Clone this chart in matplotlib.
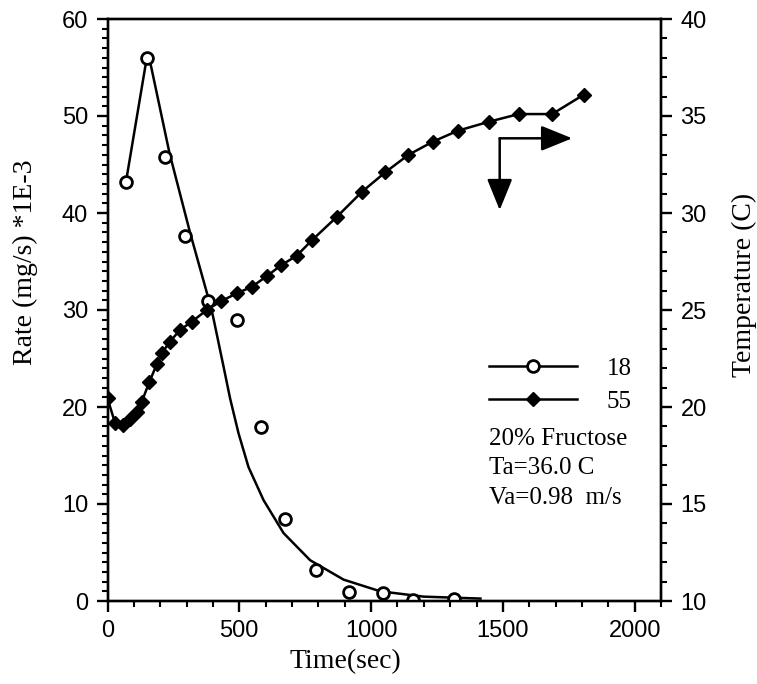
import matplotlib
matplotlib.use("Agg")
import matplotlib.pyplot as plt
from matplotlib.lines import Line2D
from matplotlib.ticker import MultipleLocator

# Drying rate (open circles, left axis)
rate_time = [70, 149, 218, 294, 383, 491, 582, 674, 792, 918, 1047, 1159, 1313]
rate_vals = [43.2, 56.0, 45.8, 37.6, 30.9, 29.0, 17.9, 8.5, 3.2, 0.9, 0.8, 0.1, 0.2]

# Fitted rate curve
fit_time = [70, 149, 160, 235, 313, 385, 400, 420, 440, 465, 497, 535, 592,
            668, 769, 896, 1035, 1199, 1415]
fit_vals = [43.2, 56.0, 55.8, 46.2, 38.0, 31.0, 29.4, 26.8, 24.2, 20.9, 17.3,
            13.8, 10.4, 7.0, 4.2, 2.2, 1.0, 0.45, 0.25]

# Product temperature (filled diamonds, right axis)
temp_time = [0, 28, 60, 85, 111, 130, 159, 187, 206, 237, 275, 320, 377, 430,
             491, 548, 605, 658, 718, 776, 870, 966, 1054, 1142, 1235, 1329,
             1446, 1560, 1687, 1807]
temp_vals = [20.45, 19.2, 19.07, 19.4, 19.76, 20.27, 21.3, 22.2, 22.77, 23.37,
             23.97, 24.4, 25.0, 25.45, 25.86, 26.2, 26.75, 27.3, 27.8, 28.6,
             29.8, 31.1, 32.1, 33.0, 33.68, 34.24, 34.7, 35.1, 35.1, 36.1]

series_labels = ["18", "55"]
notes = ["20% Fructose", "Ta=36.0 C", "Va=0.98  m/s"]

SANS = "Liberation Sans"
SERIF = "Liberation Serif"
LW = 1.8

W, H = 757, 684
fig = plt.figure(figsize=(W / 100, H / 100), dpi=100)
x0, x1, y0, y1 = 107.5, 661, 19, 601
ax = fig.add_axes([x0 / W, 1 - y1 / H, (x1 - x0) / W, (y1 - y0) / H])
ax2 = ax.twinx()

ax.set_xlim(0, 2100)
ax.set_ylim(0, 60)
ax2.set_ylim(10, 40)

for a in (ax, ax2):
    for s in a.spines.values():
        s.set_linewidth(1.7)

ax.xaxis.set_major_locator(MultipleLocator(500))
ax.xaxis.set_minor_locator(MultipleLocator(100))
ax.yaxis.set_major_locator(MultipleLocator(10))
ax.yaxis.set_minor_locator(MultipleLocator(1))
ax2.yaxis.set_major_locator(MultipleLocator(5))
ax2.yaxis.set_minor_locator(MultipleLocator(1))

ax.tick_params(axis="both", which="major", direction="out", length=8, width=1.7,
               labelsize=17, pad=6)
ax.tick_params(axis="both", which="minor", direction="out", length=4.5, width=1.5)
ax2.tick_params(axis="y", which="major", direction="out", length=8, width=1.7,
                labelsize=17, pad=6)
ax2.tick_params(axis="y", which="minor", direction="out", length=4.5, width=1.5)
for lab in ax.get_xticklabels() + ax.get_yticklabels() + ax2.get_yticklabels():
    lab.set_fontfamily(SANS)

# fitted rate curve and measured rates
ax.plot(fit_time, fit_vals, color="black", lw=LW, zorder=3)
ax.plot(rate_time, rate_vals, linestyle="none", marker="o", markersize=8.5,
        markerfacecolor="white", markeredgecolor="black", markeredgewidth=2.0,
        zorder=4)

# temperature history
ax2.plot(temp_time, temp_vals, color="black", lw=LW, marker="D", markersize=7.5,
         markerfacecolor="black", markeredgecolor="black", zorder=3)

# axis titles
fig.text(25 / W, 1 - 262 / H, "Rate (mg/s) *1E-3", rotation=90, ha="center",
         va="center", family=SERIF, fontsize=20)
fig.text(744 / W, 1 - 285 / H, "Temperature (C)", rotation=90, ha="center",
         va="center", family=SERIF, fontsize=20)
fig.text(345 / W, 1 - 662 / H, "Time(sec)", ha="center", va="center",
         family=SERIF, fontsize=20)

# legend
handles = [
    Line2D([], [], color="black", lw=LW, marker="o", markersize=8.5,
           markerfacecolor="white", markeredgecolor="black", markeredgewidth=2.0),
    Line2D([], [], color="black", lw=LW, marker="D", markersize=7.5,
           markerfacecolor="black"),
]
ax.legend(handles, series_labels, loc="center left", frameon=False,
          bbox_to_anchor=((489 - x0) / (x1 - x0), 1 - (385 - y0) / (y1 - y0)),
          prop={"family": SERIF, "size": 18}, handlelength=3.5,
          handletextpad=1.2, labelspacing=0.4, borderpad=0, borderaxespad=0,
          numpoints=1)

for i, t in enumerate(notes):
    fig.text(489 / W, 1 - (439 + 29.5 * i) / H, t, ha="left", va="center",
             family=SERIF, fontsize=18)

# direction arrows
corner = (1488, 47.7)
arrow_kw = dict(arrowstyle="-|>,head_length=1.6,head_width=0.65", color="black",
                lw=1.8, shrinkA=0, shrinkB=0, mutation_scale=12)
ax.annotate("", xy=(1763, 47.7), xytext=corner, arrowprops=arrow_kw)
ax.annotate("", xy=(1488, 40.3), xytext=corner, arrowprops=arrow_kw)

fig.savefig("out.png", dpi=100)
